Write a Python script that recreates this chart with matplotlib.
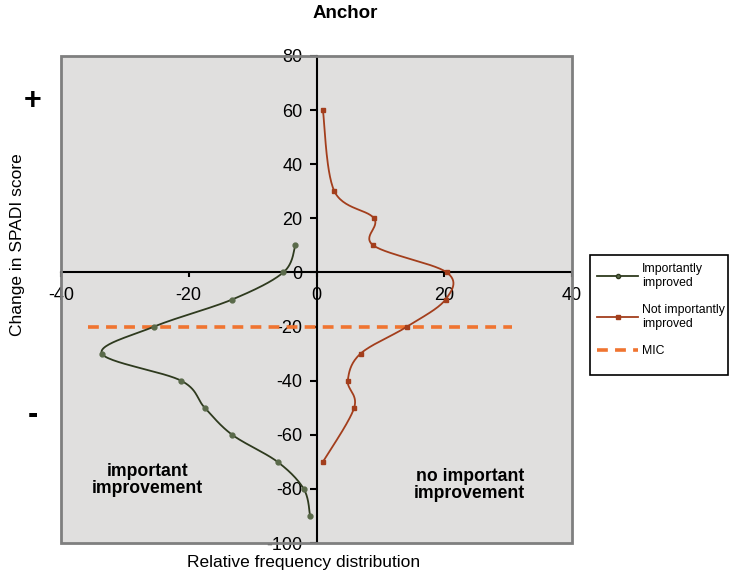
import numpy as np
import matplotlib
matplotlib.use('Agg')
from matplotlib import pyplot as plt
from matplotlib.patches import Rectangle

plt.rcParams['font.family'] = ['Liberation Sans', 'DejaVu Sans']
plt.rcParams['axes.unicode_minus'] = False

# change in SPADI score (y) vs relative frequency (x)
improved_y = [10, 0, -10, -20, -30, -40, -50, -60, -70, -80, -90]
improved_x = [-3.3, -5.2, -13.2, -25.4, -33.6, -21.2, -17.5, -13.2, -6.1, -2.0, -1.0]

not_improved_y = [60, 30, 20, 10, 0, -10, -20, -30, -40, -50, -70]
not_improved_x = [1.0, 2.8, 9.0, 8.9, 20.4, 20.2, 14.2, 6.9, 4.9, 5.9, 1.0]

mic_y = -20
mic_x = [-35.7, 30.6]

x_ticks = [-40, -20, 0, 20, 40]
y_ticks = [-100, -80, -60, -40, -20, 0, 20, 40, 60, 80]


def smooth(xs, ys, n=30):
    # catmull-rom through the points, like excel's smoothed line
    p = np.column_stack([xs, ys]).astype(float)
    p = np.vstack([p[0], p, p[-1]])
    out = []
    t = np.linspace(0, 1, n)[:, None]
    for i in range(1, len(p) - 2):
        p0, p1, p2, p3 = p[i - 1], p[i], p[i + 1], p[i + 2]
        seg = 0.5 * ((2 * p1) + (-p0 + p2) * t + (2 * p0 - 5 * p1 + 4 * p2 - p3) * t ** 2
                     + (-p0 + 3 * p1 - 3 * p2 + p3) * t ** 3)
        out.append(seg)
    out = np.vstack(out)
    return out[:, 0], out[:, 1]


fig = plt.figure(figsize=(7.29, 5.74), dpi=100)
ax = fig.add_axes([61 / 729, 1 - 543 / 574, 511 / 729, 487 / 574])
ax.set_facecolor('#E0DFDE')
ax.set_xlim(-40, 40)
ax.set_ylim(-100, 80)

green = '#2E3A1E'
red = '#A33E1C'
orange = '#F07430'

sx, sy = smooth(improved_x, improved_y)
ax.plot(sx, sy, color=green, lw=1.3, zorder=3)
ax.plot(improved_x, improved_y, 'o', color='#5A6A4A', ms=3.5, zorder=4)

sx, sy = smooth(not_improved_x, not_improved_y)
ax.plot(sx, sy, color=red, lw=1.3, zorder=3)
ax.plot(not_improved_x, not_improved_y, 's', color=red, ms=2.5, zorder=4)

ax.plot(mic_x, [mic_y, mic_y], '--', color=orange, lw=2.6, dashes=(3, 2), zorder=2)

for s in ['top', 'right']:
    ax.spines[s].set_visible(False)
ax.spines['left'].set_position(('data', 0))
ax.spines['bottom'].set_position(('data', 0))
ax.spines['left'].set_linewidth(1.5)
ax.spines['bottom'].set_linewidth(1.5)
ax.add_patch(Rectangle((0, 0), 1, 1, transform=ax.transAxes, fill=False,
                       edgecolor='#7F7F7F', lw=2, clip_on=False, zorder=5))

ax.set_xticks(x_ticks)
ax.set_yticks(y_ticks)
ax.tick_params(axis='both', direction='out', width=1.5, labelsize=13, pad=5)
ax.tick_params(axis='x', length=3.5, pad=7)
ax.tick_params(axis='y', length=5)

ax.text(-26.5, -76.7, 'important\nimprovement', ha='center', va='center',
        fontsize=12.7, fontweight='bold', linespacing=1.0)
ax.text(24.0, -78.5, 'no important\nimprovement', ha='center', va='center',
        fontsize=12.7, fontweight='bold', linespacing=1.0)

fig.text(345 / 729, 1 - 14 / 574, 'Anchor', ha='center', va='center',
         fontsize=13.5, fontweight='bold')
fig.text(18 / 729, 1 - 245 / 574, 'Change in SPADI score', rotation=90,
         ha='center', va='center', fontsize=12.5)
fig.text(304 / 729, 1 - 562 / 574, 'Relative frequency distribution',
         ha='center', va='center', fontsize=12.5)
fig.text(33 / 729, 1 - 101 / 574, '+', ha='center', va='center', fontsize=22, fontweight='bold')
fig.text(33 / 729, 1 - 415 / 574, '-', ha='center', va='center', fontsize=22, fontweight='bold')

# legend box drawn by hand, excel leaves extra room at the bottom
fig.patches.append(Rectangle((590 / 729, 1 - 375 / 574), 138 / 729, 120 / 574,
                             transform=fig.transFigure, fill=False,
                             edgecolor='black', lw=1.2))

h1, = ax.plot([], [], color=green, lw=1.3, marker='o', ms=3, markerfacecolor='#5A6A4A')
h2, = ax.plot([], [], color=red, lw=1.3, marker='s', ms=2.5)
h3, = ax.plot([], [], '--', color=orange, lw=2.6, dashes=(3, 2))
leg = fig.legend([h1, h2, h3], ['Importantly\nimproved', 'Not importantly\nimproved', 'MIC'],
                 loc='upper left', bbox_to_anchor=(592 / 729, 1 - 258 / 574),
                 fontsize=8.8, frameon=False, handlelength=3.4,
                 borderpad=0.4, labelspacing=1.25, handletextpad=0.3, borderaxespad=0)

plt.savefig('out.png', dpi=100)
